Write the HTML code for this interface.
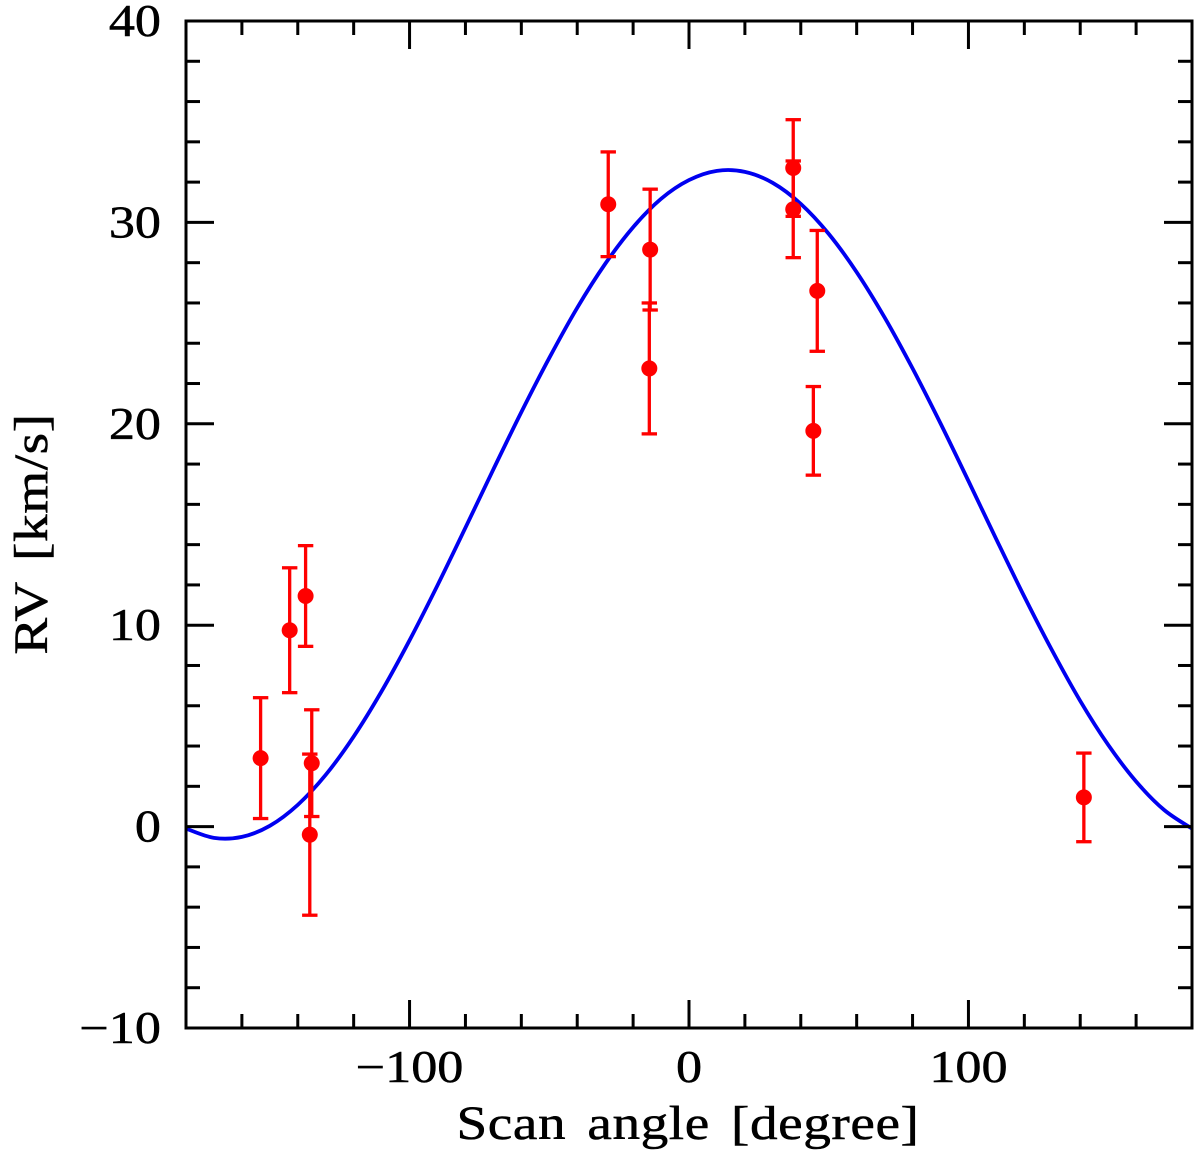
<!DOCTYPE html>
<html lang="en">
<head>
<meta charset="utf-8">
<title>RV vs Scan angle</title>
<style>
html,body{margin:0;padding:0;background:#fff;width:1200px;height:1154px;overflow:hidden}
svg{display:block}
text{font-family:"Liberation Serif","DejaVu Serif",serif;fill:#000;stroke:#000;stroke-width:.5}
</style>
</head>
<body>
<svg id="chart" xmlns="http://www.w3.org/2000/svg" width="1200" height="1154" viewBox="0 0 1200 1154">
<rect width="1200" height="1154" fill="#fff"/>
<g id="curve-layer"></g>
<g id="points-layer"></g>
<g id="axes-layer"></g>
<text transform="translate(688,1139) scale(1.15,1)" text-anchor="middle" font-size="48" letter-spacing="0.5" word-spacing="6">Scan angle [degree]</text>
<text transform="translate(47,534) rotate(-90) scale(1.15,1)" text-anchor="middle" font-size="48" letter-spacing="0.5" word-spacing="6">RV [km/s]</text>
</svg>
<script>
var xDomain = [-180, 180];
var yDomain = [-10, 40];
var xMajorTicks = [-100, 0, 100];
var xMinorTicks = [-160, -140, -120, -80, -60, -40, -20, 20, 40, 60, 80, 120, 140, 160];
var yMajorTicks = [-10, 0, 10, 20, 30, 40];
var yMinorTicks = [-8, -6, -4, -2, 2, 4, 6, 8, 12, 14, 16, 18, 22, 24, 26, 28, 32, 34, 36, 38];
var xTickLabels = ["\u2212100", "0", "100"];
var yTickLabels = ["\u221210", "0", "10", "20", "30", "40"];

var pointAngles = [-153.3, -142.9, -137.2, -135.0, -135.7, -28.9, -13.9, -14.2, 37.3, 37.3, 45.9, 44.5, 141.3];
var pointRVs = [3.4, 9.75, 11.45, 3.15, -0.4, 30.9, 28.65, 22.75, 32.7, 30.65, 26.6, 19.65, 1.45];
var pointErrors = [3.0, 3.1, 2.5, 2.65, 4.0, 2.6, 3.0, 3.25, 2.4, 2.4, 3.0, 2.2, 2.2];

var curveAngles = [-180, -170, -160, -150, -140, -130, -120, -110, -100, -90, -80, -70, -60, -50, -40, -30, -20, -10, 0, 10, 20, 30, 40, 50, 60, 70, 80, 90, 100, 110, 120, 130, 140, 150, 160, 170, 180];
var curveRVs = [-0.1, -0.56, -0.51, 0.04, 1.08, 2.57, 4.47, 6.72, 9.25, 11.98, 14.84, 17.74, 20.58, 23.27, 25.76, 27.94, 29.76, 31.17, 32.1, 32.56, 32.51, 31.96, 30.92, 29.43, 27.53, 25.28, 22.75, 20.02, 17.16, 14.26, 11.42, 8.73, 6.24, 4.06, 2.24, 0.83, -0.1];

var NS = 'http://www.w3.org/2000/svg';
var plot = { left: 186, right: 1192, top: 21, bottom: 1028 };

function xScale(v) {
  return plot.left + (v - xDomain[0]) / (xDomain[1] - xDomain[0]) * (plot.right - plot.left);
}
function yScale(v) {
  return plot.bottom - (v - yDomain[0]) / (yDomain[1] - yDomain[0]) * (plot.bottom - plot.top);
}
function make(tag, parent, attrs) {
  var el = document.createElementNS(NS, tag);
  for (var k in attrs) { el.setAttribute(k, attrs[k]); }
  parent.appendChild(el);
  return el;
}
function drawLine(parent, x1, y1, x2, y2, color, width) {
  return make('line', parent, { x1: x1, y1: y1, x2: x2, y2: y2, stroke: color, 'stroke-width': width });
}

var curveLayer = document.getElementById('curve-layer');
var pointsLayer = document.getElementById('points-layer');
var axesLayer = document.getElementById('axes-layer');

// points and error bars
pointAngles.forEach(function (a, i) {
  var g = make('g', pointsLayer, {});
  
  
  var cx = xScale(a);
  var cy = yScale(pointRVs[i]);
  var hi = yScale(pointRVs[i] + pointErrors[i]);
  var lo = yScale(pointRVs[i] - pointErrors[i]);
  var stem = drawLine(g, cx, hi, cx, lo, '#ff0000', 3.3);
  
  
  var capTop = drawLine(g, cx - 7.7, hi, cx + 7.7, hi, '#ff0000', 3.3);
  
  
  var capBottom = drawLine(g, cx - 7.7, lo, cx + 7.7, lo, '#ff0000', 3.3);
  
  
  var dot = make('circle', g, { cx: cx, cy: cy, r: 8, fill: '#ff0000' });
  
  
});

// smooth model curve through the read values
var pts = curveAngles.map(function (a, i) { return [xScale(a), yScale(curveRVs[i])]; });
var d = 'M' + pts[0][0] + ' ' + pts[0][1];
for (var i = 0; i < pts.length - 1; i++) {
  var p0 = pts[Math.max(i - 1, 0)];
  var p1 = pts[i];
  var p2 = pts[i + 1];
  var p3 = pts[Math.min(i + 2, pts.length - 1)];
  d += ' C' + (p1[0] + (p2[0] - p0[0]) / 6) + ' ' + (p1[1] + (p2[1] - p0[1]) / 6) + ' ' +
       (p2[0] - (p3[0] - p1[0]) / 6) + ' ' + (p2[1] - (p3[1] - p1[1]) / 6) + ' ' + p2[0] + ' ' + p2[1];
}
var curve = make('path', curveLayer, { d: d, fill: 'none', stroke: '#0000f0', 'stroke-width': 3.8 });



// frame
var frame = make('rect', axesLayer, {
  x: plot.left, y: plot.top, width: plot.right - plot.left, height: plot.bottom - plot.top,
  fill: 'none', stroke: '#000', 'stroke-width': 3
});



// x ticks
function xTick(v, len) {
  var x = xScale(v);
  var b = drawLine(axesLayer, x, plot.bottom, x, plot.bottom - len, '#000', 3);
  
  
  var t = drawLine(axesLayer, x, plot.top, x, plot.top + len, '#000', 3);
  
  
}
function yTick(v, len) {
  var y = yScale(v);
  var l = drawLine(axesLayer, plot.left, y, plot.left + len, y, '#000', 3);
  
  
  var r = drawLine(axesLayer, plot.right, y, plot.right - len, y, '#000', 3);
  
  
}
xMinorTicks.forEach(function (v) { xTick(v, 14); });
xMajorTicks.forEach(function (v) { xTick(v, 28); });
yMinorTicks.forEach(function (v) { yTick(v, 14); });
yMajorTicks.forEach(function (v) { yTick(v, 28); });

// tick labels
xMajorTicks.forEach(function (v, i) {
  var t = make('text', axesLayer, {
    transform: 'translate(' + xScale(v) + ',1082) scale(1.16,1)', 'text-anchor': 'middle', 'font-size': 45
  });
  t.textContent = xTickLabels[i];
  
  
});
yMajorTicks.forEach(function (v, i) {
  var t = make('text', axesLayer, {
    transform: 'translate(161,' + (yScale(v) + 15) + ') scale(1.16,1)', 'text-anchor': 'end', 'font-size': 45
  });
  t.textContent = yTickLabels[i];
  
  
});
</script>
</body>
</html>
